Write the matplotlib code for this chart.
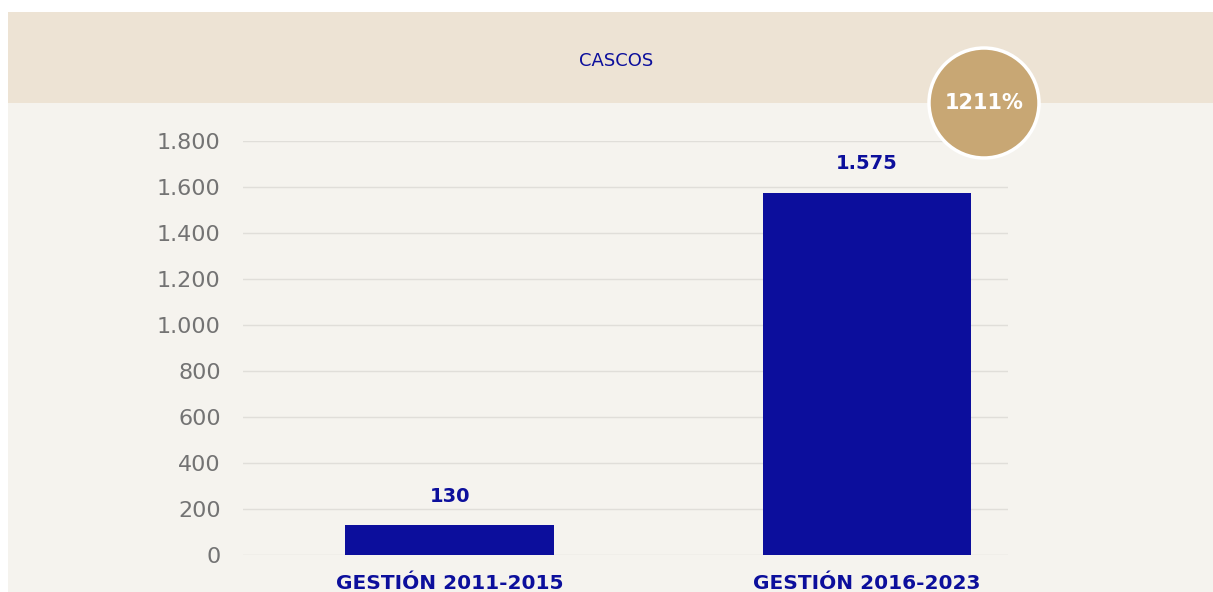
import matplotlib.pyplot as plt
from matplotlib.patches import Rectangle, Circle

# data
categories = ["GESTIÓN 2011-2015", "GESTIÓN 2016-2023"]
values = [130, 1575]
value_labels = ["130", "1.575"]
yticks = [0, 200, 400, 600, 800, 1000, 1200, 1400, 1600, 1800]
ytick_labels = ["0", "200", "400", "600", "800", "1.000", "1.200", "1.400", "1.600", "1.800"]
title = "CASCOS"
growth_label = "1211%"

W, H = 1213, 592
navy = "#0C0F9C"
plt.rcParams['font.family'] = ['DejaVu Sans']

fig = plt.figure(figsize=(W / 100, H / 100), dpi=100)
fig.patch.set_facecolor("white")

# background panels (figure pixel coords -> fraction)
fig.patches.append(Rectangle((8 / W, 0), 1 - 8 / W, (H - 103) / H,
                             transform=fig.transFigure, facecolor="#F5F3EE",
                             edgecolor="none", zorder=-10))
fig.patches.append(Rectangle((8 / W, (H - 103) / H), 1 - 8 / W, 91 / H,
                             transform=fig.transFigure, facecolor="#EDE3D4",
                             edgecolor="none", zorder=-10))

fig.text(616 / W, 1 - 61 / H, title, ha="center", va="center",
         color=navy, fontsize=13)

ax = fig.add_axes([243 / W, 37 / H, (1008 - 243) / W, (555 - 141) / H])
ax.set_facecolor("none")
x = [0, 1]
ax.bar(x, values, width=0.5, color="#0C0E9C", zorder=3)
ax.set_xlim(-0.495, 1.338)
ax.set_ylim(0, 1800)
ax.set_yticks(yticks)
ax.set_yticklabels(ytick_labels, color="#737373", fontsize=16)
ax.tick_params(axis="y", length=0, pad=16)
ax.set_xticks(x)
ax.set_xticklabels(categories, color=navy, fontsize=14.5, fontweight="bold")
ax.tick_params(axis="x", length=0, pad=14)
ax.grid(axis="y", color="#E0DED9", linewidth=1.0, zorder=0)
for s in ax.spines.values():
    s.set_visible(False)

for xi, v, lab in zip(x, values, value_labels):
    ax.annotate(lab, (xi, v), xytext=(0, 14), textcoords="offset points",
                ha="center", va="bottom", color=navy, fontsize=14,
                fontweight="bold")

# growth badge
circ = Circle((984 / 100, (H - 103) / 100), 0.55, transform=fig.dpi_scale_trans,
              facecolor="#C8A774", edgecolor="white", linewidth=2.5, zorder=5)
fig.patches.append(circ)
fig.text(984 / W, 1 - 103 / H, growth_label, ha="center", va="center",
         color="white", fontsize=15, fontweight="bold", zorder=6)

fig.savefig("out.png", dpi=100, facecolor=fig.get_facecolor())
